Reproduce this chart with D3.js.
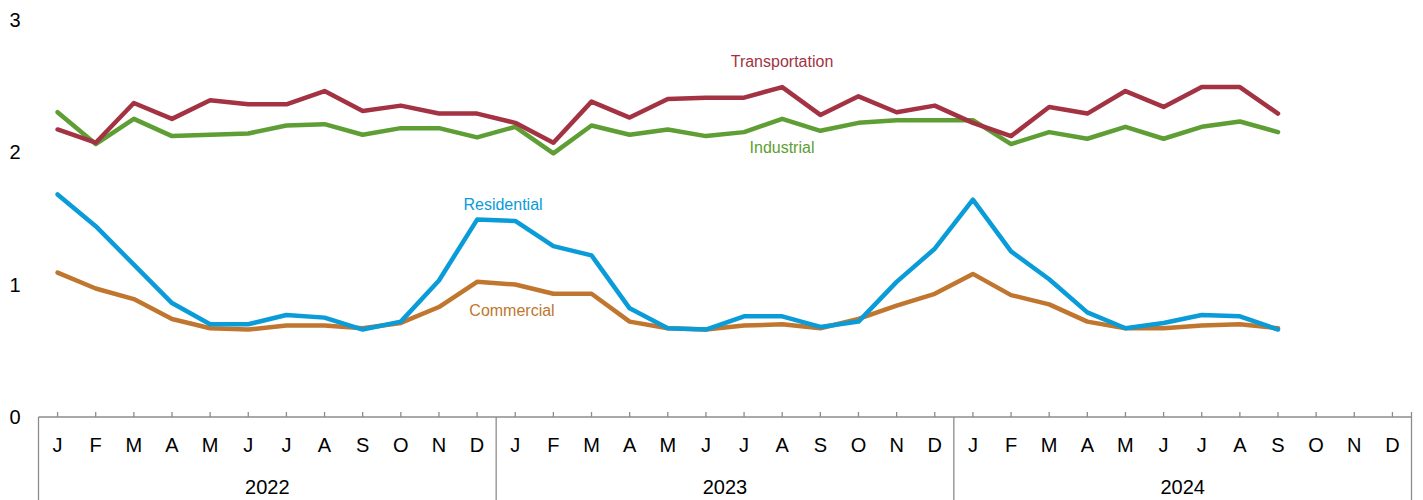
<!DOCTYPE html>
<html>
<head>
<meta charset="utf-8">
<script src="https://cdn.jsdelivr.net/npm/d3@7"></script>
<style>
  body { margin: 0; background: #fff; }
  svg { display: block; font-family: "Liberation Sans", Arial, sans-serif; }
</style>
</head>
<body>
<svg width="1423" height="500"></svg>
<script>
  var years = ["2022", "2023", "2024"];
  var monthLabels = ["J", "F", "M", "A", "M", "J", "J", "A", "S", "O", "N", "D"];
  var yTicks = [0, 1, 2, 3];

  // monthly values, Jan 2022 through Sep 2024
  var transportation = [2.17, 2.07, 2.37, 2.25, 2.39, 2.36, 2.36, 2.46, 2.31, 2.35, 2.29, 2.29,
    2.22, 2.07, 2.38, 2.26, 2.40, 2.41, 2.41, 2.49, 2.28, 2.42, 2.30, 2.35,
    2.22, 2.12, 2.34, 2.29, 2.46, 2.34, 2.49, 2.49, 2.29];
  var industrial = [2.30, 2.06, 2.25, 2.12, 2.13, 2.14, 2.20, 2.21, 2.13, 2.18, 2.18, 2.11,
    2.19, 1.99, 2.20, 2.13, 2.17, 2.12, 2.15, 2.25, 2.16, 2.22, 2.24, 2.24,
    2.24, 2.06, 2.15, 2.10, 2.19, 2.10, 2.19, 2.23, 2.15];
  var residential = [1.68, 1.44, 1.15, 0.86, 0.70, 0.70, 0.77, 0.75, 0.66, 0.72, 1.03, 1.49,
    1.48, 1.29, 1.22, 0.82, 0.67, 0.66, 0.76, 0.76, 0.68, 0.72, 1.02, 1.27,
    1.64, 1.25, 1.04, 0.79, 0.67, 0.71, 0.77, 0.76, 0.66];
  var commercial = [1.09, 0.97, 0.89, 0.74, 0.67, 0.66, 0.69, 0.69, 0.67, 0.71, 0.83, 1.02,
    1.00, 0.93, 0.93, 0.72, 0.67, 0.66, 0.69, 0.70, 0.67, 0.74, 0.84, 0.93,
    1.08, 0.92, 0.85, 0.72, 0.67, 0.67, 0.69, 0.70, 0.67];

  var series = [
    { name: "Commercial", values: commercial, color: "#c0762e", lx: 512, ly: 316 },
    { name: "Residential", values: residential, color: "#0a9bd9", lx: 503, ly: 210 },
    { name: "Industrial", values: industrial, color: "#5e9e34", lx: 782, ly: 153 },
    { name: "Transportation", values: transportation, color: "#a33343", lx: 782, ly: 67 }
  ];

  var svg = d3.select("svg");
  var left = 38.5, right = 1411.5, axisY = 417;
  var nMonths = years.length * 12;

  var x = d3.scaleLinear().domain([0, nMonths]).range([left, right]);
  var y = d3.scaleLinear().domain([0, 3]).range([axisY, 19.5]);

  // y labels
  svg.append("g")
    .selectAll("text")
    .data(yTicks)
    .join("text")
    .attr("x", 15)
    .attr("y", function (d) { return y(d); })
    .attr("dy", "0.35em")
    .attr("text-anchor", "middle")
    .attr("font-size", 20)
    .attr("fill", "#000")
    .text(function (d) { return d; });

  // x axis
  var axisG = svg.append("g").attr("stroke", "#8c8c8c").attr("stroke-width", 1.3);
  axisG.append("line")
    .attr("x1", left).attr("x2", right)
    .attr("y1", axisY).attr("y2", axisY);

  axisG.selectAll(".tick")
    .data(d3.range(nMonths))
    .join("line")
    .attr("class", "tick")
    .attr("x1", function (d) { return x(d + 0.5); })
    .attr("x2", function (d) { return x(d + 0.5); })
    .attr("y1", axisY - 5)
    .attr("y2", axisY);

  axisG.selectAll(".sep")
    .data(d3.range(years.length + 1))
    .join("line")
    .attr("class", "sep")
    .attr("x1", function (d) { return x(d * 12); })
    .attr("x2", function (d) { return x(d * 12); })
    .attr("y1", function (d) { return d === years.length ? axisY - 5 : axisY; })
    .attr("y2", 500);

  var monthData = d3.range(nMonths);
  svg.append("g")
    .selectAll("text")
    .data(monthData)
    .join("text")
    .attr("x", function (d) { return x(d + 0.5); })
    .attr("y", 452)
    .attr("text-anchor", "middle")
    .attr("font-size", 20)
    .text(function (d) { return monthLabels[d % 12]; });

  svg.append("g")
    .selectAll("text")
    .data(years)
    .join("text")
    .attr("x", function (d, i) { return x(i * 12 + 6); })
    .attr("y", 494)
    .attr("text-anchor", "middle")
    .attr("font-size", 20)
    .text(function (d) { return d; });

  // lines
  var line = d3.line()
    .x(function (d, i) { return x(i + 0.5); })
    .y(function (d) { return y(d); });

  svg.append("g")
    .selectAll("path")
    .data(series)
    .join("path")
    .attr("d", function (s) { return line(s.values); })
    .attr("fill", "none")
    .attr("stroke", function (s) { return s.color; })
    .attr("stroke-width", 4.5)
    .attr("stroke-linejoin", "round")
    .attr("stroke-linecap", "round");

  svg.append("g")
    .selectAll("text")
    .data(series)
    .join("text")
    .attr("x", function (s) { return s.lx; })
    .attr("y", function (s) { return s.ly; })
    .attr("text-anchor", "middle")
    .attr("font-size", 16)
    .attr("fill", function (s) { return s.color; })
    .text(function (s) { return s.name; });
</script>
</body>
</html>
